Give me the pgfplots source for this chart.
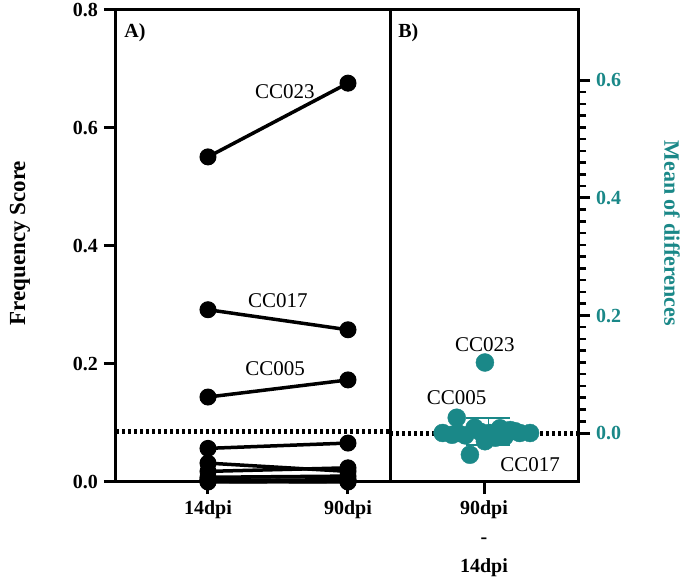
\documentclass[border=0pt]{standalone}
\usepackage{pgfplots}
\pgfplotsset{compat=1.18}
\usepackage{fontspec}
\setmainfont{Liberation Serif}
\definecolor{teal2}{RGB}{26,136,136}
\pgfplotsset{pair/.style={black, line width=3.5pt, mark=*, mark size=8pt, mark options={solid, fill=black, draw=black, line width=1pt}}}
\begin{document}
\fontsize{18}{22}\selectfont
\begin{tikzpicture}
\useasboundingbox (-116pt,-96pt) rectangle (572pt,482pt);
\begin{axis}[
 at={(0pt,0pt)}, anchor=south west,
 scale only axis, width=274pt, height=472pt,
 xmin=0.343, xmax=2.3, ymin=0, ymax=0.8,
 axis line style={line width=3pt},
 xtick={1,2}, xticklabels={14dpi,90dpi},
 ytick={0,0.2,0.4,0.6,0.8},
 xtick pos=bottom, ytick pos=left,
 tick align=outside,
 major tick length=12pt,
 tick style={black, line width=3pt},
 yticklabel style={/pgf/number format/.cd, fixed, fixed zerofill, precision=1, assume math mode=true},
 tick label style={font=\fontsize{20}{29}\selectfont\bfseries},
 ylabel={Frequency Score},
 ylabel style={at={(axis description cs:-0.350,0.506)}, anchor=center, font=\fontsize{23}{26}\selectfont\bfseries},
 clip=false,
]
\addplot[black, line width=5pt, dash pattern=on 3pt off 3pt, forget plot] coordinates {(0.343,0.085) (2.3,0.085)};
\addplot[pair] coordinates {(1,0.551) (2,0.676)};
\addplot[pair] coordinates {(1,0.292) (2,0.258)};
\addplot[pair] coordinates {(1,0.144) (2,0.173)};
\addplot[pair] coordinates {(1,0.057) (2,0.066)};
\addplot[pair] coordinates {(1,0.032) (2,0.018)};
\addplot[pair] coordinates {(1,0.018) (2,0.024)};
\addplot[pair] coordinates {(1,0.008) (2,0.010)};
\addplot[pair] coordinates {(1,0.004) (2,0.002)};
\addplot[pair] coordinates {(1,0.002) (2,0.004)};
\addplot[pair] coordinates {(1,0.000) (2,0.001)};
\addplot[pair] coordinates {(1,0.001) (2,0.000)};
\node[font=\fontsize{21}{22}\selectfont] at (axis cs:1.55,0.661) {CC023};
\node[font=\fontsize{21}{22}\selectfont] at (axis cs:1.50,0.308) {CC017};
\node[font=\fontsize{21}{22}\selectfont] at (axis cs:1.48,0.193) {CC005};
\node[anchor=north west, inner sep=0pt, font=\fontsize{20}{20}\selectfont\bfseries] at (rel axis cs:0.03,0.972) {A)};
\end{axis}
\begin{axis}[
 at={(274pt,0pt)}, anchor=south west,
 scale only axis, width=188pt, height=472pt,
 xmin=0, xmax=2, ymin=-0.0834, ymax=0.72,
 axis line style={line width=3pt},
 xtick={1}, xticklabels={{90dpi\\-\\14dpi}},
 xticklabel style={align=center},
 ytick={0,0.2,0.4,0.6}, minor y tick num=9,
 xtick pos=bottom, ytick pos=right,
 tick align=outside,
 major tick length=12pt, minor tick length=8pt,
 tick style={black, line width=3pt},
 minor tick style={black, line width=2.5pt},
 yticklabel style={teal2, /pgf/number format/.cd, fixed, fixed zerofill, precision=1, assume math mode=true},
 tick label style={font=\fontsize{20}{29}\selectfont\bfseries},
 ylabel={Mean of differences},
 ylabel style={at={(axis description cs:1.50,0.527)}, rotate=180, anchor=center, text=teal2, font=\fontsize{22}{26}\selectfont\bfseries},
 clip=false,
]
\addplot[black, line width=5pt, dash pattern=on 3pt off 3pt, forget plot] coordinates {(0,0) (2,0)};
\addplot[teal2, line width=2pt, forget plot] coordinates {(0.62,0.003) (1.45,0.003)};
\addplot[teal2, line width=2pt, mark=none, forget plot,
  error bars/.cd, y dir=both, y explicit,
  error mark options={rotate=90, mark size=22pt, line width=2pt, teal2}]
  coordinates {(1.043,0.003) +- (0,0.023)};
\addplot[only marks, mark=*, mark size=9pt, color=teal2, mark options={fill=teal2, draw=teal2}] coordinates {
 (1.01,0.120) (0.71,0.026) (0.85,-0.037)
 (0.56,0.000) (0.72,0.000) (0.96,0.002) (1.06,0.000) (1.17,0.008)
 (1.28,0.005) (1.38,0.000) (1.49,0.000) (0.80,-0.004) (1.12,-0.008)
 (1.33,0.003) (1.01,-0.014) (0.90,0.009) (1.22,-0.006) (0.66,-0.003)
};
\node[font=\fontsize{21}{22}\selectfont] at (axis cs:1.01,0.151) {CC023};
\node[font=\fontsize{21}{22}\selectfont] at (axis cs:0.71,0.060) {CC005};
\node[font=\fontsize{21}{22}\selectfont] at (axis cs:1.49,-0.054) {CC017};
\node[anchor=north west, inner sep=0pt, font=\fontsize{20}{20}\selectfont\bfseries] at (rel axis cs:0.043,0.972) {B)};
\end{axis}
\end{tikzpicture}
\end{document}
